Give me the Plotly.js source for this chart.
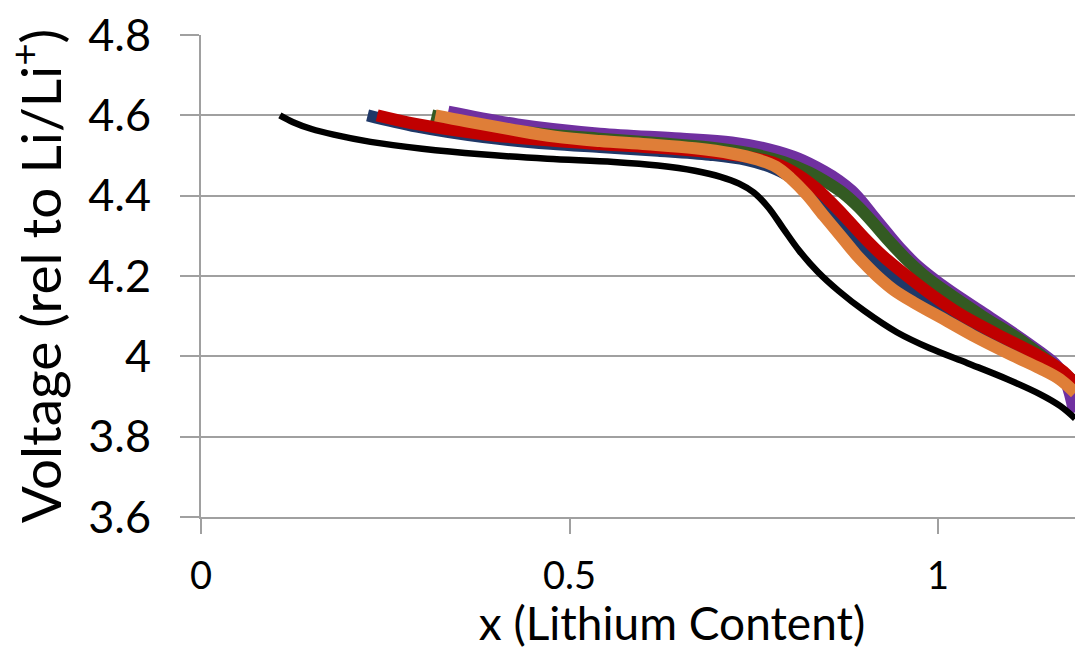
<!DOCTYPE html>
<html>
<head>
<meta charset="utf-8">
<script src="https://cdn.plot.ly/plotly-3.0.1.min.js"></script>
<style>
html, body { margin: 0; padding: 0; overflow: hidden; background: #fff; }
#chart { width: 1143px; height: 650px; }
</style>
</head>
<body>
<div id="chart"></div>
<script>
// Lithium content x and voltage (V vs Li/Li+) for each curve
var purpleX = [0.335, 0.429, 0.541, 0.650, 0.720, 0.770, 0.810, 0.845, 0.865, 0.882, 0.897, 0.912, 0.930, 0.950, 0.970, 0.990, 1.016, 1.057, 1.098, 1.138, 1.160, 1.175, 1.186];
var purpleY = [4.607, 4.575, 4.552, 4.540, 4.530, 4.513, 4.490, 4.458, 4.435, 4.410, 4.380, 4.345, 4.305, 4.262, 4.225, 4.195, 4.160, 4.110, 4.060, 4.008, 3.975, 3.935, 3.860];

var greenX = [0.313, 0.383, 0.474, 0.541, 0.620, 0.690, 0.745, 0.790, 0.825, 0.852, 0.872, 0.892, 0.912, 0.932, 0.955, 0.980, 1.010, 1.060, 1.120, 1.186];
var greenY = [4.600, 4.572, 4.552, 4.542, 4.531, 4.520, 4.505, 4.484, 4.458, 4.430, 4.405, 4.372, 4.332, 4.290, 4.245, 4.203, 4.162, 4.100, 4.030, 3.935];

var navyX = [0.226, 0.293, 0.383, 0.474, 0.541, 0.620, 0.690, 0.740, 0.780, 0.810, 0.835, 0.860, 0.885, 0.905, 0.925, 0.945, 0.970, 1.000, 1.047, 1.094, 1.138, 1.170, 1.186];
var navyY = [4.600, 4.572, 4.546, 4.529, 4.521, 4.512, 4.502, 4.489, 4.466, 4.435, 4.400, 4.350, 4.300, 4.258, 4.220, 4.188, 4.152, 4.115, 4.068, 4.027, 3.988, 3.950, 3.920];

var redX = [0.239, 0.293, 0.383, 0.474, 0.541, 0.620, 0.690, 0.740, 0.780, 0.810, 0.835, 0.850, 0.875, 0.900, 0.925, 0.958, 0.990, 1.030, 1.080, 1.138, 1.170, 1.186];
var redY = [4.600, 4.578, 4.553, 4.537, 4.528, 4.519, 4.508, 4.497, 4.480, 4.452, 4.418, 4.392, 4.345, 4.295, 4.250, 4.200, 4.155, 4.105, 4.055, 4.000, 3.962, 3.930];

var orangeX = [0.318, 0.360, 0.420, 0.480, 0.541, 0.605, 0.670, 0.720, 0.755, 0.780, 0.800, 0.822, 0.845, 0.870, 0.888, 0.905, 0.922, 0.940, 0.966, 1.012, 1.047, 1.100, 1.138, 1.165, 1.186];
var orangeY = [4.600, 4.585, 4.565, 4.547, 4.536, 4.528, 4.518, 4.505, 4.490, 4.472, 4.443, 4.402, 4.350, 4.295, 4.255, 4.222, 4.192, 4.165, 4.135, 4.088, 4.052, 4.003, 3.970, 3.943, 3.909];

var blackX = [0.107, 0.125, 0.150, 0.180, 0.230, 0.300, 0.380, 0.470, 0.560, 0.620, 0.670, 0.705, 0.730, 0.750, 0.770, 0.790, 0.812, 0.837, 0.865, 0.900, 0.944, 0.989, 1.040, 1.094, 1.138, 1.166, 1.186];
var blackY = [4.600, 4.583, 4.566, 4.552, 4.534, 4.517, 4.503, 4.492, 4.484, 4.475, 4.462, 4.447, 4.430, 4.408, 4.370, 4.318, 4.262, 4.210, 4.163, 4.113, 4.060, 4.020, 3.983, 3.943, 3.906, 3.876, 3.845];

var yTickVals = [3.6, 3.8, 4.0, 4.2, 4.4, 4.6, 4.8];
var yTickText = ['3.6', '3.8', '4', '4.2', '4.4', '4.6', '4.8'];
var xTickVals = [0, 0.5, 1];
var xTickText = ['0', '0.5', '1'];

function series(x, y, color, width) {
  return {
    x: x, y: y, type: 'scatter', mode: 'lines',
    line: { color: color, width: width, shape: 'spline', smoothing: 1 },
    hoverinfo: 'skip', showlegend: false
  };
}

var data = [
  series(purpleX, purpleY, '#7030A0', 14),
  series(greenX, greenY, '#335A22', 12),
  series(navyX, navyY, '#1F3868', 12),
  series(redX, redY, '#C00000', 12),
  series(orangeX, orangeY, '#DF7E38', 12),
  series(blackX, blackY, '#000000', 6.5)
];

var FONT = 'Lato, "Open Sans", sans-serif';
var grid = '#A0A0A0';

var layout = {
  width: 1143, height: 650,
  margin: { l: 201, r: 0, t: 35, b: 133 },
  paper_bgcolor: '#ffffff', plot_bgcolor: '#ffffff',
  showlegend: false,
  font: { family: FONT, color: '#000000' },
  xaxis: {
    range: [0, 1.278], showgrid: false, zeroline: false,
    showline: true, linecolor: grid, linewidth: 2,
    ticks: 'outside', ticklen: 15, tickwidth: 2, tickcolor: grid,
    tickvals: xTickVals, ticktext: xTickText,
    tickfont: { family: FONT, size: 38, color: '#000' },
    ticklabelstandoff: 9,
    title: { text: 'x (Lithium Content)', font: { family: FONT, size: 46, color: '#000' }, standoff: 18 }
  },
  yaxis: {
    range: [3.6, 4.8], showgrid: true, gridcolor: grid, gridwidth: 2, zeroline: false,
    showline: true, linecolor: grid, linewidth: 2,
    ticks: 'outside', ticklen: 19, tickwidth: 2, tickcolor: grid,
    tickvals: yTickVals, ticktext: yTickText,
    tickfont: { family: FONT, size: 45, color: '#000' },
    ticklabelstandoff: 20,
    title: { text: 'Voltage (rel to Li/Li<sup>+</sup>)', font: { family: FONT, size: 55, color: '#000' }, standoff: 14 }
  }
};

Plotly.newPlot('chart', data, layout, { displayModeBar: false, staticPlot: true });
</script>
</body>
</html>
